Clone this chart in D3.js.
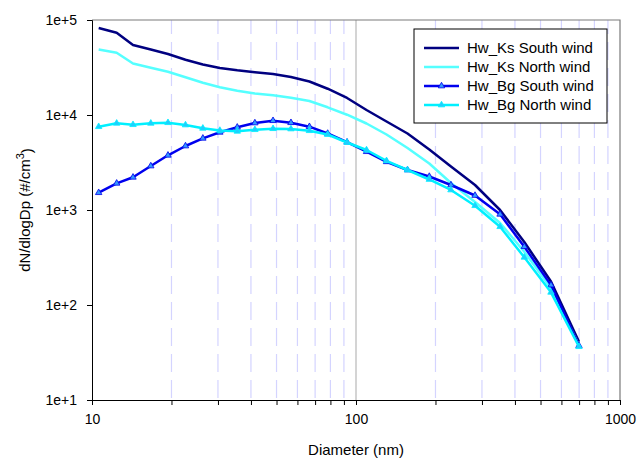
<!DOCTYPE html>
<html>
<head>
<meta charset="utf-8">
<script src="https://cdn.jsdelivr.net/npm/d3@7"></script>
<style>
  body { margin: 0; background: #fff; }
  text { font-family: "Liberation Sans", Arial, sans-serif; }
</style>
</head>
<body>
<div id="chart"></div>
<script>
// Diameter bins (nm)
const diameters = [10.6, 12.4, 14.3, 16.7, 19.4, 22.6, 26.3, 30.5, 35.5, 41.4, 48.5, 56.7, 66.6,
    78.1, 92.5, 109.6, 130.5, 156.7, 189.5, 228.9, 282.4, 351.3, 434.0, 547.7, 699.2];

const ksSouth = [82400, 73500, 54600, 48900, 43900, 38200, 34000, 31250, 29540, 28210, 27020, 25120, 22520,
    18910, 15100, 11290, 8540, 6390, 4330, 2870, 1833, 1000, 460, 177, 41];
const ksNorth = [48900, 45150, 34840, 31400, 28490, 24930, 21820, 19610, 17970, 16840, 16120, 15180, 14040,
    12050, 10070, 8140, 6230, 4490, 3090, 1924, 1214, 730, 364, 150, 37.9];
const bgSouth = [1521, 1910, 2210, 2905, 3765, 4717, 5683, 6575, 7423, 8238, 8710, 8297, 7533,
    6390, 5173, 4109, 3217, 2637, 2252, 1833, 1421, 901, 411, 162, 37.3];
const bgNorth = [7533, 8177, 7905, 8177, 8297, 7847, 7244, 6868, 6737, 7004, 7175, 7123, 6833,
    6230, 5135, 4280, 3295, 2637, 2095, 1624, 1110, 667, 318, 136, 36.4];

const seriesNames = ["Hw_Ks South wind", "Hw_Ks North wind", "Hw_Bg South wind", "Hw_Bg North wind"];
const yTicks = [10, 100, 1000, 10000, 100000];
const xLabelTicks = [10, 100, 1000];

const WIDTH = 638, HEIGHT = 458;
const MARGIN = {top: 20, right: 18, bottom: 58, left: 92};
const INNER_WIDTH = WIDTH - MARGIN.left - MARGIN.right;
const INNER_HEIGHT = HEIGHT - MARGIN.top - MARGIN.bottom;

const series = [
    {name: seriesNames[0], values: ksSouth, color: "#000080", marker: false},
    {name: seriesNames[1], values: ksNorth, color: "#55ffff", marker: false},
    {name: seriesNames[2], values: bgSouth, color: "#0000ee", marker: true, markerFill: "#3399ff"},
    {name: seriesNames[3], values: bgNorth, color: "#00f0ff", marker: true, markerFill: "#22ccff"}
];

const svg = d3.select("#chart")
    .append("svg")
    .attr("width", WIDTH)
    .attr("height", HEIGHT)
    .append("g")
    .attr("transform", `translate(${MARGIN.left},${MARGIN.top})`);

const x = d3.scaleLog().domain([10, 1000]).range([0, INNER_WIDTH]);
const y = d3.scaleLog().domain([10, 100000]).range([INNER_HEIGHT, 0]);

// all minor x positions 20..90, 200..900
const xMinor = x.ticks().filter(d => d > 10 && d < 1000 && d !== 100);
const xAll = x.ticks();

// Vertical dashed grid
svg.selectAll("line.grid")
    .data(xMinor)
    .join("line")
    .attr("class", "grid")
    .attr("x1", d => x(d)).attr("x2", d => x(d))
    .attr("y1", INNER_HEIGHT - 2).attr("y2", 0)
    .attr("stroke", "#d4d4ff")
    .attr("stroke-width", 1.2)
    .attr("stroke-dasharray", "18,8");

svg.append("line")
    .attr("x1", x(100)).attr("x2", x(100))
    .attr("y1", 0).attr("y2", INNER_HEIGHT)
    .attr("stroke", "#b8b8b8")
    .attr("stroke-width", 1.2);

// Frame (top & right grey)
svg.append("path")
    .attr("d", `M0,0H${INNER_WIDTH}V${INNER_HEIGHT}`)
    .attr("fill", "none")
    .attr("stroke", "#7a7a7a")
    .attr("stroke-width", 1.2);

// Axes
const xAxis = svg.append("g")
    .attr("transform", `translate(0,${INNER_HEIGHT})`)
    .call(d3.axisBottom(x).tickValues(xAll).tickSize(5).tickPadding(9)
        .tickFormat(d => xLabelTicks.includes(d) ? d3.format("d")(d) : ""));
xAxis.select(".domain").attr("stroke", "#000");
xAxis.selectAll("text").style("font-size", "14px").attr("fill", "#000");

const yAxis = svg.append("g")
    .call(d3.axisLeft(y).tickValues(yTicks).tickSize(5).tickPadding(10)
        .tickFormat(d => "1e+" + Math.round(Math.log10(d))));
yAxis.select(".domain").attr("stroke", "#000");
yAxis.selectAll("text").style("font-size", "14px").attr("fill", "#000");

// Series lines
const line = d3.line()
    .x((d, i) => x(diameters[i]))
    .y(d => y(d));

series.forEach(s => {
    svg.append("path")
        .datum(s.values)
        .attr("fill", "none")
        .attr("stroke", s.color)
        .attr("stroke-width", 2.5)
        .attr("stroke-linejoin", "round")
        .attr("d", line);
    if (s.marker) {
        svg.selectAll(null)
            .data(s.values)
            .join("path")
            .attr("transform", (d, i) => `translate(${x(diameters[i])},${y(d)})`)
            .attr("d", d3.symbol(d3.symbolTriangle, 18))
            .attr("fill", s.markerFill)
            .attr("stroke", s.color)
            .attr("stroke-width", 0.8);
    }
});

// Axis titles
svg.append("text")
    .attr("x", INNER_WIDTH / 2)
    .attr("y", INNER_HEIGHT + 55)
    .attr("text-anchor", "middle")
    .style("font-size", "15px")
    .text("Diameter (nm)");

const yTitle = svg.append("text")
    .attr("transform", `translate(${25 - MARGIN.left},${INNER_HEIGHT / 2}) rotate(-90)`)
    .attr("text-anchor", "middle")
    .attr("dy", "0.35em")
    .style("font-size", "15px");
yTitle.append("tspan").text("dN/dlogDp (#/cm");
yTitle.append("tspan").attr("dy", "-0.55em").style("font-size", "11px").text("3");
yTitle.append("tspan").attr("dy", "0.55em").text(")");

// Legend
const legend = svg.append("g")
    .attr("transform", `translate(${414 - MARGIN.left},${29 - MARGIN.top})`);

legend.append("rect")
    .attr("x", 0).attr("y", 0)
    .attr("width", 193).attr("height", 94)
    .attr("fill", "#fff")
    .attr("stroke", "#000")
    .attr("stroke-width", 1);

series.forEach((s, i) => {
    const ly = 19 + i * 19;
    legend.append("line")
        .attr("x1", 10).attr("x2", 45)
        .attr("y1", ly).attr("y2", ly)
        .attr("stroke", s.color)
        .attr("stroke-width", 2.5);
    if (s.marker) {
        legend.append("path")
            .attr("transform", `translate(27.5,${ly})`)
            .attr("d", d3.symbol(d3.symbolTriangle, 18))
            .attr("fill", s.markerFill)
            .attr("stroke", s.color)
            .attr("stroke-width", 0.8);
    }
    legend.append("text")
        .attr("x", 53)
        .attr("y", ly)
        .attr("dy", "0.35em")
        .style("font-size", "15px")
        .text(s.name);
});
</script>
</body>
</html>
